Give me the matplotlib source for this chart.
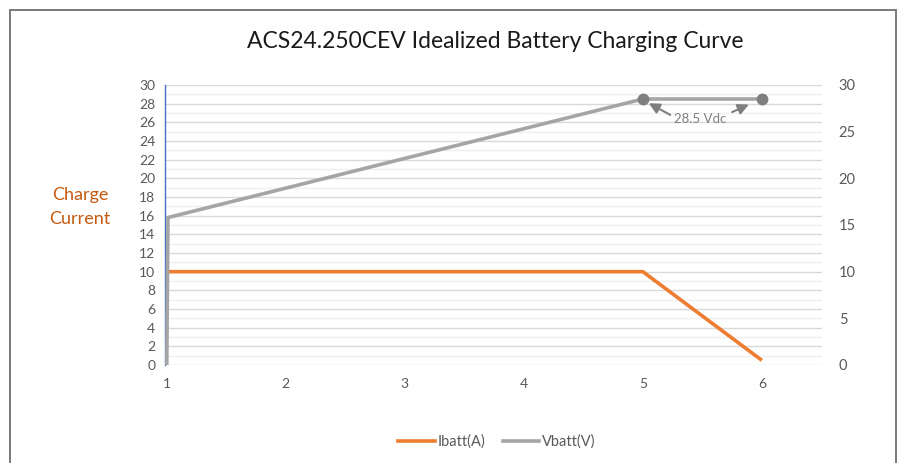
import matplotlib
matplotlib.use("Agg")
import matplotlib.pyplot as plt
from matplotlib.patches import Rectangle
from matplotlib.lines import Line2D

# ---- data ----
x_ticks = [1, 2, 3, 4, 5, 6]
left_ticks = list(range(0, 31, 2))
right_ticks = [0, 5, 10, 15, 20, 25, 30]

ibatt_x = [1, 5, 6]
ibatt_y = [10, 10, 0.5]

vbatt_x = [1, 1.01, 5, 6]
vbatt_y = [0, 15.8, 28.5, 28.5]

marker_x = [5, 6]
marker_y = [28.5, 28.5]

title = "ACS24.250CEV Idealized Battery Charging Curve"
ylabel = "Charge\nCurrent"
annot_text = "28.5 Vdc"

plt.rcParams['font.family'] = ['Lato', 'DejaVu Sans']

ORANGE = '#ED7D31'
GRAY = '#A5A5A5'
DARKGRAY = '#7F7F7F'
TXT = '#595959'

fig = plt.figure(figsize=(9, 4.63), dpi=100)
fig.patch.set_facecolor('white')

# outer frame
fig.add_artist(Rectangle((10/900, -0.05), (896-10)/900, 1.05 - 10/463,
                         transform=fig.transFigure, fill=False,
                         edgecolor='#6f6f6f', linewidth=1.3))

ax = fig.add_axes([165/900, 98/463, (822-165)/900, (378-98)/463])
ax.set_xlim(0.985, 6.505)
ax.set_ylim(0, 30)

# grid
for v in range(0, 31):
    c = '#D9D9D9' if v % 2 == 0 else '#EFEFEF'
    ax.axhline(v, color=c, linewidth=1.0, zorder=0)

for s in ['top', 'right', 'bottom']:
    ax.spines[s].set_visible(False)
ax.spines['left'].set_color('#4472C4')
ax.spines['left'].set_linewidth(1.0)

ax.set_xticks(x_ticks)
ax.set_yticks(left_ticks)
ax.tick_params(axis='both', length=0, colors=TXT, labelsize=10)
ax.tick_params(axis='y', pad=7)
ax.tick_params(axis='x', pad=9)

ax.plot(ibatt_x, ibatt_y, color=ORANGE, linewidth=2.6, solid_capstyle='butt', zorder=3)
ax.plot(vbatt_x, vbatt_y, color=GRAY, linewidth=2.6, solid_capstyle='butt', zorder=4)
ax.plot(marker_x, marker_y, linestyle='none', marker='o', markersize=7.5,
        color=DARKGRAY, zorder=5)

# annotation
ax.text(5.48, 26.4, annot_text, ha='center', va='center', color=DARKGRAY, fontsize=9.5)
ax.annotate('', xy=(5.05, 28.05), xytext=(5.23, 26.8),
            arrowprops=dict(arrowstyle='-|>', color=DARKGRAY, lw=1.5,
                            mutation_scale=16, shrinkA=0, shrinkB=0))
ax.annotate('', xy=(5.89, 27.9), xytext=(5.75, 27.1),
            arrowprops=dict(arrowstyle='-|>', color=DARKGRAY, lw=1.5,
                            mutation_scale=16, shrinkA=0, shrinkB=0))

ax2 = ax.twinx()
ax2.set_ylim(0, 30)
ax2.set_yticks(right_ticks)
for s in ax2.spines.values():
    s.set_visible(False)
ax2.tick_params(axis='y', length=0, colors=TXT, labelsize=10.5, pad=12)

fig.text(495/900, 1 - 42/463, title, ha='center', va='center',
         fontsize=16.5, color='#1a1a1a')
fig.text(80/900, 1 - 207/463, ylabel, ha='center', va='center',
         fontsize=13, color='#C55A11', linespacing=1.55)

handles = [Line2D([], [], color=ORANGE, linewidth=2.6),
           Line2D([], [], color=GRAY, linewidth=2.6)]
leg = fig.legend(handles, ['Ibatt(A)', 'Vbatt(V)'], loc='center',
                 bbox_to_anchor=(497/900, 1 - 442/463), ncol=2, frameon=False,
                 fontsize=10.5, handlelength=2.5, handletextpad=0.2,
                 columnspacing=1.2)
for t in leg.get_texts():
    t.set_color(TXT)

fig.savefig('out.png', dpi=100, facecolor='white')
